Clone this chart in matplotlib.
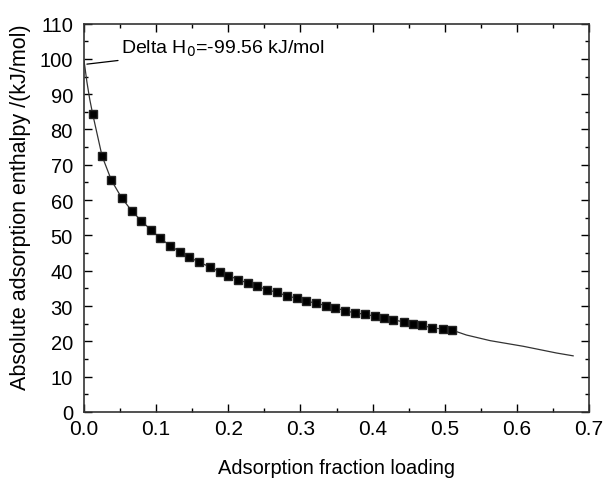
import matplotlib
matplotlib.use("Agg")
import matplotlib.pyplot as plt
from matplotlib.ticker import MultipleLocator

plt.rcParams['font.family'] = ['Liberation Sans', 'DejaVu Sans']

# Measured data points (square markers)
loading = [0.012, 0.025, 0.038, 0.052, 0.066, 0.079, 0.093, 0.106, 0.119, 0.133,
           0.146, 0.160, 0.174, 0.188, 0.200, 0.214, 0.228, 0.240, 0.254, 0.267,
           0.281, 0.295, 0.308, 0.322, 0.335, 0.348, 0.362, 0.376, 0.390, 0.403,
           0.416, 0.429, 0.443, 0.456, 0.469, 0.483, 0.497, 0.510]
enthalpy = [84.4, 72.5, 65.6, 60.7, 57.0, 54.2, 51.5, 49.2, 47.1, 45.4,
            43.8, 42.4, 41.1, 39.7, 38.6, 37.5, 36.4, 35.6, 34.6, 33.9,
            32.9, 32.2, 31.4, 30.8, 30.1, 29.5, 28.7, 28.0, 27.7, 27.1,
            26.6, 26.1, 25.5, 25.0, 24.5, 23.8, 23.5, 23.2]

# Fitted curve
fit_x = [0.0, 0.004, 0.008, 0.012, 0.025, 0.038, 0.052, 0.066, 0.079, 0.093, 0.106,
         0.119, 0.133, 0.146, 0.160, 0.174, 0.188, 0.200, 0.214, 0.228, 0.240,
         0.254, 0.267, 0.281, 0.295, 0.308, 0.322, 0.335, 0.348, 0.362, 0.376,
         0.390, 0.403, 0.416, 0.429, 0.443, 0.456, 0.469, 0.483, 0.497, 0.510,
         0.530, 0.563, 0.609, 0.655, 0.678]
fit_y = [99.56, 93.5, 88.5, 84.4, 72.5, 65.6, 60.7, 57.0, 54.2, 51.5, 49.2,
         47.1, 45.4, 43.8, 42.4, 41.1, 39.7, 38.6, 37.5, 36.4, 35.6,
         34.6, 33.9, 32.9, 32.2, 31.4, 30.8, 30.1, 29.5, 28.7, 28.0,
         27.7, 27.1, 26.6, 26.1, 25.5, 25.0, 24.5, 23.8, 23.5, 23.2,
         21.8, 20.2, 18.6, 16.7, 15.9]

fig = plt.figure(figsize=(6.03, 4.81), dpi=100)
ax = fig.add_axes([0.1393, 0.1414, 0.8375, 0.8076])

ax.plot(fit_x, fit_y, color='#333333', lw=0.9, zorder=2)
ax.plot(loading, enthalpy, linestyle='none', marker='s', markersize=6.4,
        color='black', markeredgecolor='#222222', zorder=3)

ax.annotate('Delta H$_0$=-99.56 kJ/mol', xy=(0.004, 98.5), xytext=(0.051, 103.0),
            fontsize=14, va='center', ha='left',
            arrowprops=dict(arrowstyle='-', color='black', lw=0.9, shrinkA=0, shrinkB=0))

ax.set_xlim(0, 0.7)
ax.set_ylim(0, 110)
ax.xaxis.set_major_locator(MultipleLocator(0.1))
ax.xaxis.set_minor_locator(MultipleLocator(0.05))
ax.yaxis.set_major_locator(MultipleLocator(10))
ax.yaxis.set_minor_locator(MultipleLocator(5))
ax.xaxis.set_major_formatter(plt.FuncFormatter(lambda v, p: f"{v:.1f}"))

ax.tick_params(which='both', direction='in', top=True, right=True, width=1.0)
ax.tick_params(axis='x', labelsize=15, pad=5)
ax.tick_params(axis='y', labelsize=14.5, pad=8)
ax.tick_params(which='major', length=6)
ax.tick_params(which='minor', length=3)
for s in ax.spines.values():
    s.set_linewidth(1.2)
    s.set_color('#333333')

ax.set_xlabel('Adsorption fraction loading', fontsize=14.4, va='top')
ax.xaxis.set_label_coords(0.5, -0.118)
ax.set_ylabel('Absolute adsorption enthalpy /(kJ/mol)', fontsize=15.5)
ax.yaxis.set_label_coords(-0.105, 0.529)

fig.savefig('out.png', dpi=100)
